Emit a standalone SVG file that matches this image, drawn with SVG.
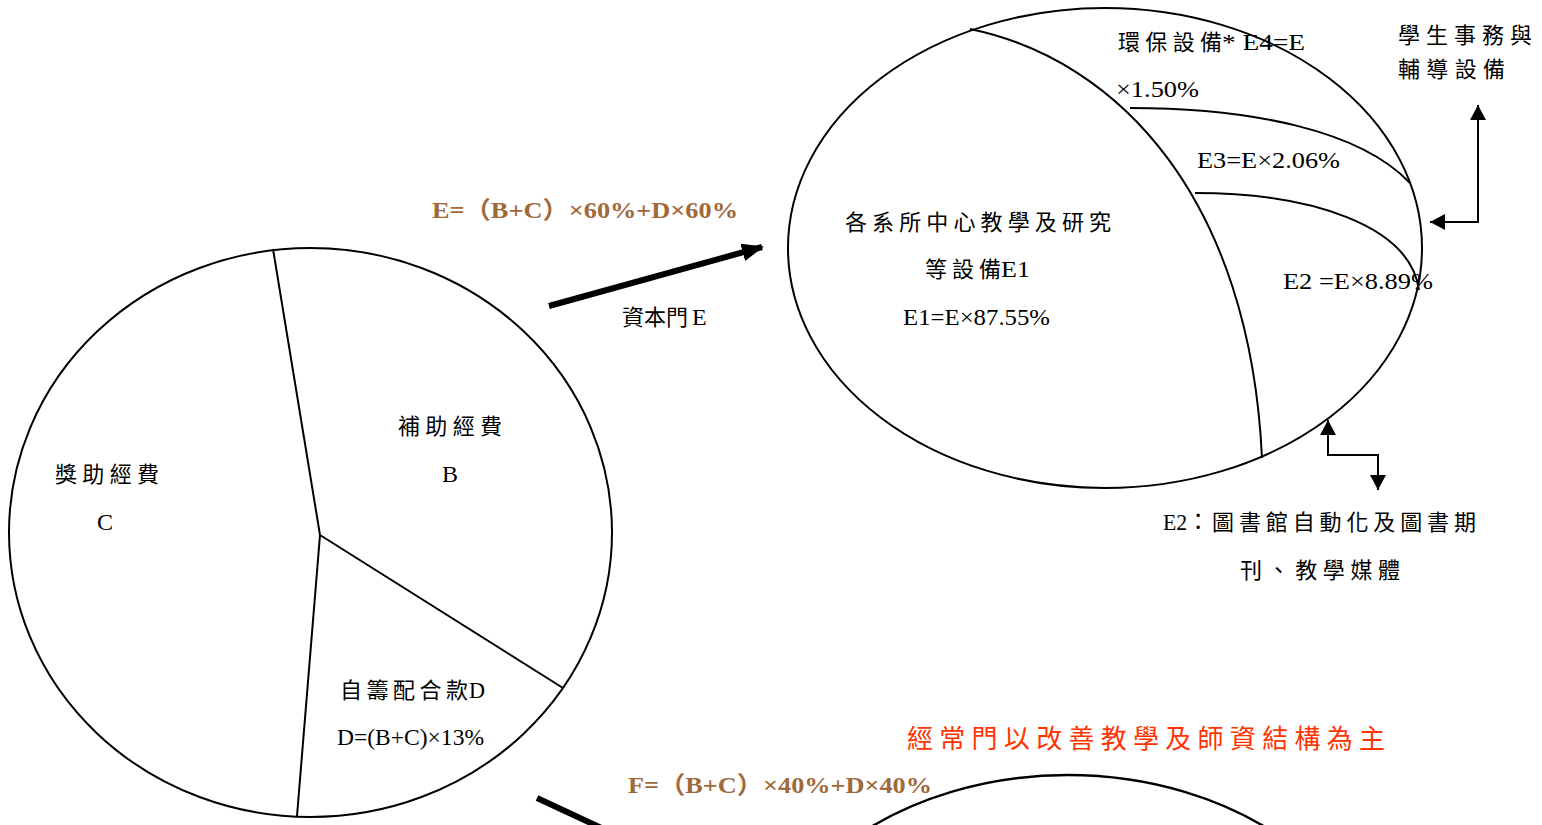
<svg xmlns="http://www.w3.org/2000/svg" width="1542" height="825" viewBox="0 0 1542 825">
<defs>
<style>
.shape{fill:none;stroke:#000;stroke-width:2}
.t{font-family:"Liberation Serif","Noto Sans CJK TC",serif;font-size:22px;fill:#000}
.n{font-family:"Liberation Serif","Noto Sans CJK TC",serif;font-size:24px;fill:#000}
.f{font-family:"Liberation Serif","Noto Sans CJK TC",serif;font-size:24px;font-weight:bold;fill:#A0693A}
.red{font-family:"Liberation Serif","Noto Sans CJK TC",serif;font-size:26px;fill:#FF3300}
.thin{fill:none;stroke:#000;stroke-width:2}
.thick{fill:none;stroke:#000;stroke-width:6}
</style>
<marker id="ah" markerWidth="16" markerHeight="16" refX="15" refY="8" orient="auto-start-reverse" markerUnits="userSpaceOnUse">
<path d="M0,0 L15,8 L0,16 Z" fill="#000"/>
</marker>
<marker id="big" markerWidth="22" markerHeight="18" refX="20" refY="9" orient="auto" markerUnits="userSpaceOnUse">
<path d="M0,0 L22,9 L0,18 Z" fill="#000"/>
</marker>
</defs>
<rect width="1542" height="825" fill="#fff"/>

<g id="pie-total">
<ellipse class="shape" cx="310.5" cy="532.5" rx="301.5" ry="284.5"/>
<path class="shape" d="M273,249 L320,535 L297,816 M320,535 L563,688"/>
</g>
<g id="slice-B">
<text class="t" x="398" y="434" textLength="104" lengthAdjust="spacing">補助經費</text>
<text class="n" x="450" y="482" text-anchor="middle">B</text>
</g>
<g id="slice-C">
<text class="t" x="55" y="482" textLength="104" lengthAdjust="spacing">獎助經費</text>
<text class="n" x="105" y="530" text-anchor="middle">C</text>
</g>
<g id="slice-D">
<text class="t" x="340" y="698" textLength="128" lengthAdjust="spacing">自籌配合款</text>
<text class="n" x="469" y="698" textLength="16" lengthAdjust="spacingAndGlyphs">D</text>
<text class="n" x="337" y="745" textLength="147" lengthAdjust="spacingAndGlyphs">D=(B+C)×13%</text>
</g>

<g id="pie-capital">
<ellipse class="shape" cx="1105" cy="248" rx="317" ry="240"/>
<path class="shape" d="M970,29 C1120,60 1250,200 1262,458"/>
<path class="shape" d="M1130,108 C1250,108 1360,130 1410,183"/>
<path class="shape" d="M1195,193 C1310,193 1410,225 1419,290"/>
</g>
<g id="E1">
<text class="t" x="845" y="230" textLength="266" lengthAdjust="spacing">各系所中心教學及研究</text>
<text class="t" x="925" y="277" textLength="76" lengthAdjust="spacing">等設備</text>
<text class="n" x="1001" y="277" textLength="29" lengthAdjust="spacingAndGlyphs">E1</text>
<text class="n" x="903" y="325" textLength="147" lengthAdjust="spacingAndGlyphs">E1=E×87.55%</text>
</g>
<g id="E2">
<text class="n" x="1283" y="289" textLength="150" lengthAdjust="spacingAndGlyphs">E2 =E×8.89%</text>
</g>
<g id="E3">
<text class="n" x="1197" y="168" textLength="143" lengthAdjust="spacingAndGlyphs">E3=E×2.06%</text>
</g>
<g id="E4">
<text class="t" x="1118" y="50" textLength="104" lengthAdjust="spacing">環保設備</text>
<text class="n" x="1222" y="50" textLength="83" lengthAdjust="spacingAndGlyphs">* E4=E</text>
<text class="n" x="1116" y="97" textLength="83" lengthAdjust="spacingAndGlyphs">×1.50%</text>
</g>
<g id="note-student">
<text class="t" x="1398" y="43" textLength="134" lengthAdjust="spacing">學生事務與</text>
<text class="t" x="1398" y="77" textLength="107" lengthAdjust="spacing">輔導設備</text>
</g>
<g id="note-library">
<text class="n" x="1163" y="530" textLength="46" lengthAdjust="spacingAndGlyphs">E2：</text>
<text class="t" x="1212" y="530" textLength="264" lengthAdjust="spacing">圖書館自動化及圖書期</text>
<text class="t" x="1240" y="578" textLength="160" lengthAdjust="spacing">刊、教學媒體</text>
</g>

<g id="pie-recurrent">
<ellipse cx="1068" cy="1015" rx="317" ry="240" fill="none" stroke="#000" stroke-width="2.5"/>
</g>

<g id="labels">
<text class="f" x="432" y="218" textLength="306" lengthAdjust="spacingAndGlyphs">E=（B+C）×60%+D×60%</text>
<text class="t" x="622" y="325" textLength="66" lengthAdjust="spacing">資本門</text>
<text class="n" x="692" y="325" font-size="26">E</text>
<text class="red" x="907" y="748" textLength="478" lengthAdjust="spacing">經常門以改善教學及師資結構為主</text>
<text class="f" x="628" y="793" textLength="304" lengthAdjust="spacingAndGlyphs">F=（B+C）×40%+D×40%</text>
</g>

<g id="connectors">
<line class="thick" x1="549" y1="306" x2="762" y2="247" marker-end="url(#big)"/>
<line class="thick" x1="537" y1="798" x2="610" y2="832"/>
<polyline class="thin" points="1478,105 1478,222 1430,222" marker-start="url(#ah)" marker-end="url(#ah)"/>
<polyline class="thin" points="1328,420 1328,455 1378,455 1378,490" marker-start="url(#ah)" marker-end="url(#ah)"/>
</g>
</svg>
